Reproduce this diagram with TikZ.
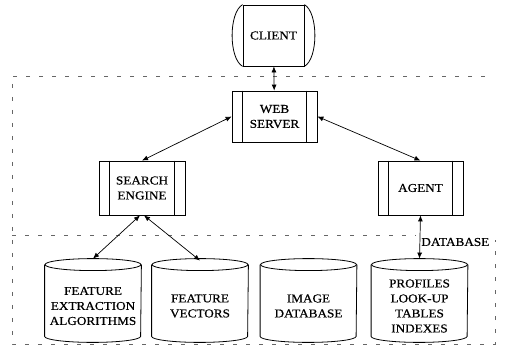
\documentclass[tikz,border=0pt]{standalone}
\usepackage{fontspec}
\setmainfont[FakeStretch=1.1,FakeBold=0.6]{Liberation Serif}
\usetikzlibrary{arrows.meta}
\begin{document}
\begin{tikzpicture}[x=1pt,y=-1pt,
    line width=0.8pt,
    every node/.style={font=\fontsize{12}{15}\selectfont, align=center, inner sep=0pt},
    box/.style={draw, minimum width=85pt, minimum height=52pt},
    dbbox/.style={minimum width=96pt, minimum height=60pt},
    link/.style={<->, >={Latex[length=6pt,width=5pt]}, line width=0.7pt},
    region/.style={dash pattern=on 4pt off 9pt, line width=0.5pt, black!60}]
  \useasboundingbox (0,0) rectangle (506,347);
  % dashed tiers
  \draw[region] (485,76) -- (12,76) -- (12,344) -- (495,344) -- (495,240);
  \draw[region] (12,235) -- (416,235);
  % client
  \node (client) [draw, minimum width=61pt, minimum height=61pt] at (273.5,35.5) {CLIENT};
  \draw (client.north west) .. controls +(-14,8) and +(-14,-8) .. (client.south west);
  \draw (client.north east) .. controls +(14,8) and +(14,-8) .. (client.south east);
  % servers
  \node (web) [box, minimum height=51pt] at (274.5,116.5) {WEB\\SERVER};
  \node (search) [box, minimum width=86pt, minimum height=54pt] at (142,188) {SEARCH\\ENGINE};
  \node (agent) [box, minimum height=54pt] at (420.5,188) {AGENT};
  \foreach \n in {web,search,agent}{
    \draw ([xshift=11pt]\n.north west) -- ([xshift=11pt]\n.south west);
    \draw ([xshift=-11pt]\n.north east) -- ([xshift=-11pt]\n.south east);
  }
  % database
  \node (dblabel) [anchor=west] at (421,242) {DATABASE};
  \node (db1) [dbbox] at (93,306) {FEATURE\\EXTRACTION\\ALGORITHMS};
  \node (db2) [dbbox] at (200,306) {FEATURE\\VECTORS};
  \node (db3) [dbbox] at (308.5,306) {IMAGE\\DATABASE};
  \node (db4) [dbbox] at (419.5,306) {PROFILES\\LOOK-UP\\TABLES\\INDEXES};
  \foreach \n in {db1,db2,db3,db4}{
    \draw ([yshift=11pt]\n.north west) -- (\n.south west)
      arc[start angle=180, end angle=360, x radius=48pt, y radius=6pt]
      -- ([yshift=11pt]\n.north east);
    \draw ([yshift=11pt]\n.north) ellipse [x radius=48pt, y radius=6pt];
  }
  % links
  \draw[link] (client) -- (web);
  \draw[link] (web.west) -- (search.north);
  \draw[link] (web.east) -- (agent.north);
  \draw[link] ([xshift=-2pt]search.south) -- ([yshift=17pt]db1.north);
  \draw[link] ([xshift=2pt]search.south) -- ([yshift=15pt]db2.north);
  \draw[link] (agent.south) -- ([yshift=17pt]db4.north);
\end{tikzpicture}
\end{document}
